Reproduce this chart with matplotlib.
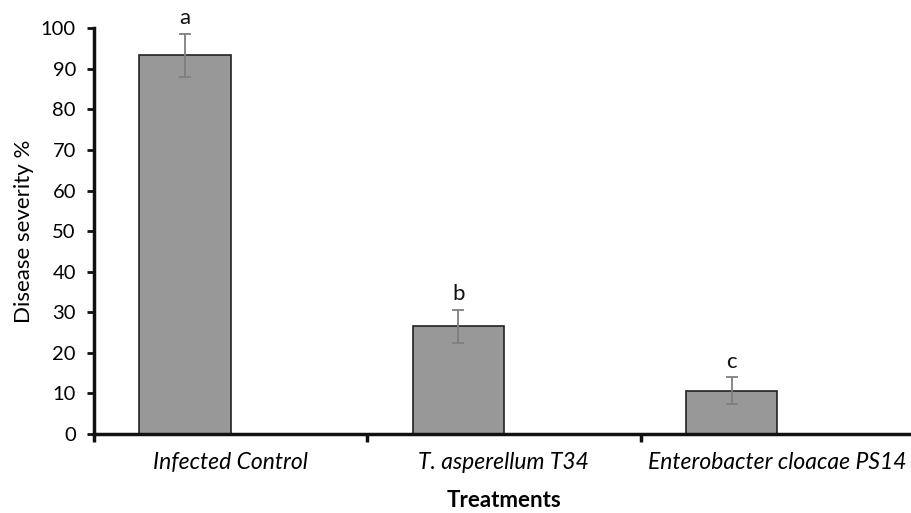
import matplotlib
matplotlib.use("Agg")
import matplotlib.pyplot as plt
import numpy as np

categories = ["Infected Control", "T. asperellum T34", "Enterobacter cloacae PS14"]
severity = [93.3, 26.5, 10.7]
errors = [5.3, 4.1, 3.3]
letters = ["a", "b", "c"]
yticks = [0, 10, 20, 30, 40, 50, 60, 70, 80, 90, 100]

plt.rcParams['font.family'] = ['Lato', 'DejaVu Sans']

fig = plt.figure(figsize=(9.12, 5.13), dpi=100)
ax = fig.add_axes([0.103, 0.154, 0.899, 0.791])

x = np.arange(len(categories))
bx = x - 1/6
ax.bar(bx, severity, width=1/3, color="#989898", edgecolor="#222222", linewidth=1.2, zorder=2)
ax.errorbar(bx, severity, yerr=errors, fmt="none", ecolor="#7f7f7f", elinewidth=1.3,
            capsize=4, capthick=1.3, zorder=3)
for xi, v, e, t in zip(bx, severity, errors, letters):
    ax.annotate(t, (xi, v + e), xytext=(0, 4), textcoords="offset points",
                ha="center", va="bottom", fontsize=16, color="#111111")

ax.set_xlim(-0.5, 2.5)
ax.set_ylim(0, 100)
ax.set_yticks(yticks)
ax.set_xticks(x)
ax.set_xticklabels(categories, fontsize=16.5, style="italic")
ax.set_xticks(np.arange(-0.5, 3.0, 1.0), minor=True)
ax.tick_params(axis="x", which="major", length=0, pad=13)
ax.tick_params(axis="x", which="minor", length=6, width=2.5, direction="out", color="#111111")
ax.tick_params(axis="y", length=5, width=2.0, pad=8, labelsize=14.5, color="#111111")

for s in ["top", "right"]:
    ax.spines[s].set_visible(False)
for s in ["left", "bottom"]:
    ax.spines[s].set_linewidth(2.5)
    ax.spines[s].set_color("#111111")

ax.set_ylabel("Disease severity %", fontsize=16, labelpad=5)
ax.set_xlabel("Treatments", fontsize=16, fontweight="bold", labelpad=12)

fig.savefig("out.png", dpi=100)
